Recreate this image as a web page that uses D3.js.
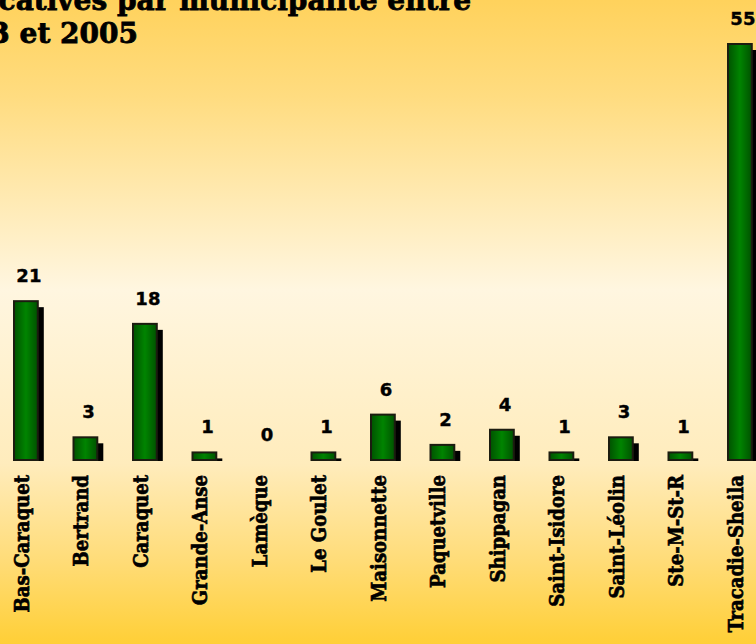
<!DOCTYPE html>
<html><head><meta charset="utf-8">
<script src="https://cdn.jsdelivr.net/npm/d3@7"></script>
<style>html,body{margin:0;padding:0;overflow:hidden;background:#FFE9B0}svg{display:block}</style>
</head><body>
<script>
const categories = ["Bas-Caraquet","Bertrand","Caraquet","Grande-Anse","Lamèque","Le Goulet","Maisonnette","Paquetville","Shippagan","Saint-Isidore","Saint-Léolin","Ste-M-St-R","Tracadie-Sheila"];
const values = [21,3,18,1,0,1,6,2,4,1,3,1,55];
const titleLines = ["Nombre de nouvelles unités locatives par municipalité entre","2003 et 2005"];

(function(){
const W = 756, H = 644;
const svg = d3.select("body").append("svg").attr("width", W).attr("height", H);
const defs = svg.append("defs");

const bg = defs.append("linearGradient").attr("id","bg").attr("x1",0).attr("y1",0).attr("x2",0).attr("y2",1);
[[0,"#FFD25C"],[0.15,"#FFDC80"],[0.45,"#FFF6E0"],[0.72,"#FFECBC"],[0.87,"#FFDC78"],[1,"#FFCF36"]]
  .forEach(([o,c])=>bg.append("stop").attr("offset",o).attr("stop-color",c));
svg.append("rect").attr("width",W).attr("height",H).attr("fill","url(#bg)");

const bar = defs.append("linearGradient").attr("id","bar").attr("x1",0).attr("y1",0).attr("x2",1).attr("y2",0);
[[0,"#005200"],[0.5,"#008400"],[1,"#005200"]].forEach(([o,c])=>bar.append("stop").attr("offset",o).attr("stop-color",c));

const baseline = 460, plotTop = 44;
const x = d3.scaleBand().domain(categories).range([-3.85, 769.65]).paddingInner(0.6).paddingOuter(0.3);
const y = d3.scaleLinear().domain([0, d3.max(values)]).range([baseline, plotTop]);

defs.append("clipPath").attr("id","clipBase").append("rect").attr("x",-50).attr("y",0).attr("width",W+100).attr("height",baseline+1);

const data = categories.map((c,i)=>({c, v: values[i]}));
const sh = 6;

svg.append("g").attr("clip-path","url(#clipBase)").selectAll("rect").data(data.filter(d=>d.v>0)).join("rect")
  .attr("x", d=>x(d.c)+sh).attr("y", d=>y(d.v)+sh)
  .attr("width", x.bandwidth()).attr("height", d=>baseline - y(d.v) + 2)
  .attr("fill","#000");

svg.append("g").selectAll("rect").data(data.filter(d=>d.v>0)).join("rect")
  .attr("x", d=>x(d.c)).attr("y", d=>y(d.v))
  .attr("width", x.bandwidth()).attr("height", d=>baseline - y(d.v))
  .attr("fill","url(#bar)").attr("stroke","#1c1c10").attr("stroke-width",2);

svg.append("g").selectAll("text").data(data).join("text")
  .attr("x", d=>x(d.c)+x.bandwidth()/2+3).attr("y", d=>y(d.v)-19)
  .attr("text-anchor","middle")
  .attr("font-family","'DejaVu Sans', Verdana, sans-serif").attr("font-weight","bold").attr("font-size",18)
  .attr("fill","#000").attr("stroke","#000").attr("stroke-width",0.4).text(d=>d.v);

svg.append("g").selectAll("text").data(data).join("text")
  .attr("transform", d=>`translate(${x(d.c)+x.bandwidth()/2+3},475) rotate(-90) scale(0.86,1)`)
  .attr("text-anchor","end")
  .attr("font-family","'DejaVu Serif', serif").attr("font-weight","bold").attr("font-size",21)
  .attr("fill","#000").attr("stroke","#000").attr("stroke-width",0.7).text(d=>d.c);

const title = svg.append("g").attr("font-family","'DejaVu Serif', serif").attr("font-weight","bold").attr("font-size",28)
  .attr("fill","#000").attr("stroke","#000").attr("stroke-width",0.8);
title.append("text").attr("x",471).attr("y",10).attr("text-anchor","end").text(titleLines[0]);
title.append("text").attr("x",138).attr("y",43).attr("text-anchor","end").text(titleLines[1]);
})();
</script>
</body></html>
